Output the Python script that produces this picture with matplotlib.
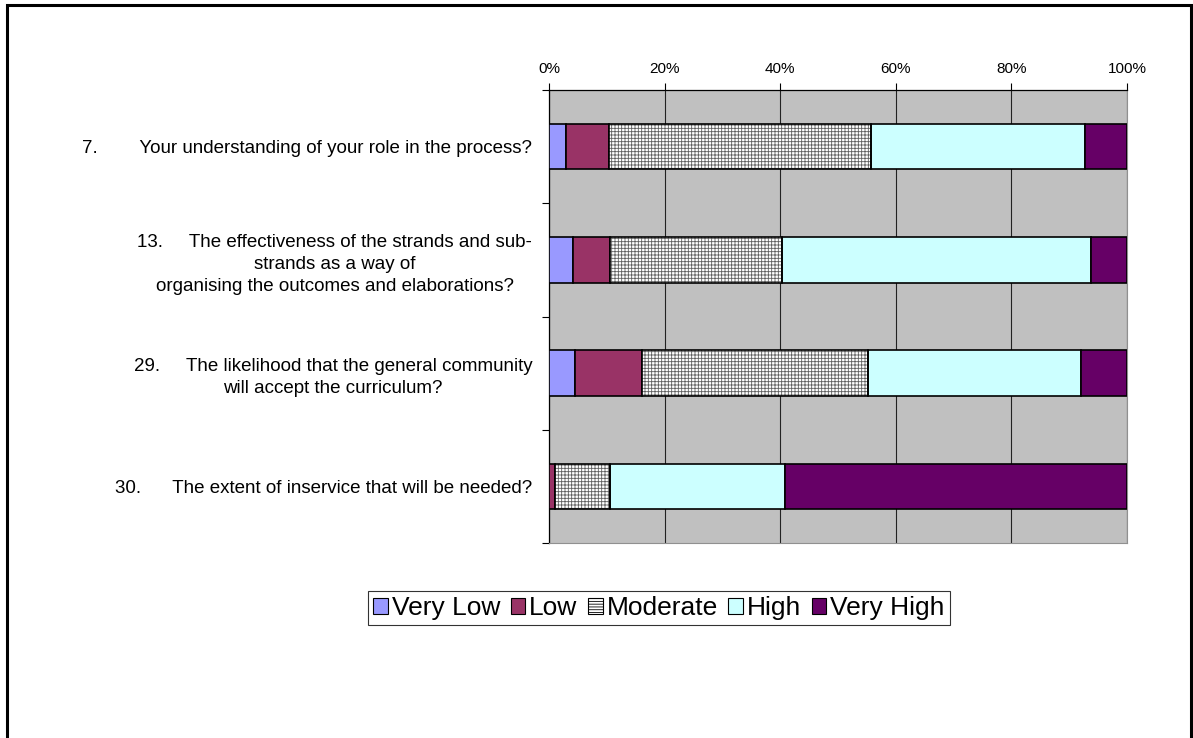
import matplotlib
matplotlib.use("Agg")
import matplotlib.pyplot as plt
from matplotlib.patches import Rectangle, Patch
import numpy as np

plt.rcParams['font.family'] = ['Liberation Sans', 'DejaVu Sans']
plt.rcParams['hatch.linewidth'] = 0.6

categories = [
    "7.        Your understanding of your role in the process?",
    "13.     The effectiveness of the strands and sub-\nstrands as a way of\norganising the outcomes and elaborations?",
    "29.     The likelihood that the general community\nwill accept the curriculum?",
    "30.      The extent of inservice that will be needed?",
]
series_names = ["Very Low", "Low", "Moderate", "High", "Very High"]
very_low = [3.0, 4.2, 4.5, 0.0]
low = [7.3, 6.4, 11.6, 1.0]
moderate = [45.4, 29.7, 39.1, 9.6]
high = [37.1, 53.4, 36.8, 30.3]
very_high = [7.2, 6.3, 8.0, 59.1]
x_ticks = [0, 20, 40, 60, 80, 100]
x_tick_labels = ["0%", "20%", "40%", "60%", "80%", "100%"]

colors = ["#9999FF", "#993366", "#FFFFFF", "#CCFFFF", "#660066"]
hatches = [None, None, "+++++", None, None]

fig = plt.figure(figsize=(11.93, 7.38), dpi=100)
ax = fig.add_axes([549/1193, 1-543/738, (1127-549)/1193, (543-90)/738])
ax.set_facecolor("#C0C0C0")

y = np.arange(len(categories))
left = np.zeros(len(categories))
data = [very_low, low, moderate, high, very_high]
for vals, c, h, name in zip(data, colors, hatches, series_names):
    vals = np.array(vals)
    if h:
        ax.barh(y, vals, left=left, height=0.4, color=c, edgecolor="#606060",
                linewidth=0, hatch=h, zorder=3)
        ax.barh(y, vals, left=left, height=0.4, fill=False, edgecolor="black",
                linewidth=1.2, zorder=4)
    else:
        ax.barh(y, vals, left=left, height=0.4, color=c, edgecolor="black",
                linewidth=1.2, zorder=3)
    left += vals

ax.set_xlim(0, 100)
ax.set_ylim(len(categories) - 0.5, -0.5)
ax.xaxis.tick_top()
ax.set_xticks(x_ticks)
ax.set_xticklabels(x_tick_labels, fontsize=11)
ax.tick_params(axis='x', length=5, width=0.8, pad=5, colors='black')
ax.grid(axis='x', color='#222222', linewidth=0.8, zorder=1)

ax.set_yticks(np.arange(-0.5, len(categories)), minor=False)
ax.set_yticklabels([])
ax.tick_params(axis='y', which='major', length=5, width=0.8)
ax.set_yticks(y, minor=True)
ax.set_yticklabels(categories, minor=True, fontsize=13.5)
ax.tick_params(axis='y', which='minor', length=0, pad=12)
for lbl in ax.get_yticklabels(minor=True):
    lbl.set_multialignment('center')
    lbl.set_linespacing(1.4)

for s in ['bottom', 'right']:
    ax.spines[s].set_color('#909090')
    ax.spines[s].set_linewidth(0.8)
for s in ['top', 'left']:
    ax.spines[s].set_color('black')
    ax.spines[s].set_linewidth(0.9)

handles = []
for c, name in zip(colors, series_names):
    if name == "Moderate":
        handles.append(Patch(facecolor=c, edgecolor="black", hatch="------", linewidth=0.8, label=name))
    else:
        handles.append(Patch(facecolor=c, edgecolor="black", linewidth=0.8, label=name))
leg = fig.legend(handles=handles, loc='center', bbox_to_anchor=(659/1193, 1-608/738),
                 ncol=5, fontsize=19, frameon=True, fancybox=False, shadow=False,
                 handlelength=0.55, handleheight=0.55, handletextpad=0.15,
                 columnspacing=0.4, borderpad=0.2, borderaxespad=0)
leg.get_frame().set_edgecolor('black')
leg.get_frame().set_linewidth(0.8)

fig.patches.append(Rectangle((7/1193, -0.05), (1191-7)/1193, 1.05 - 5/738,
                             transform=fig.transFigure, fill=False,
                             edgecolor='black', linewidth=2.2))

fig.savefig("out.png", dpi=100)
